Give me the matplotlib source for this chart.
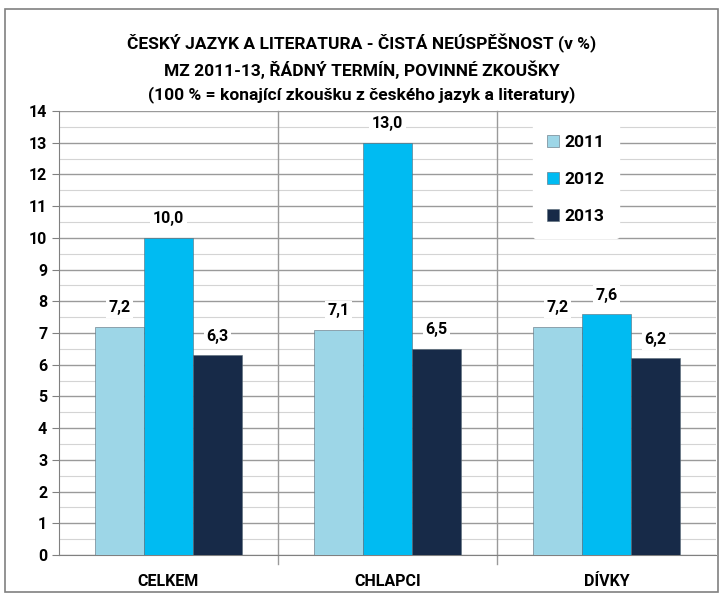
import matplotlib
matplotlib.use('Agg')
import matplotlib.pyplot as plt
import numpy as np
from matplotlib.patches import Rectangle

categories = ['CELKEM', 'CHLAPCI', 'DÍVKY']
years = ['2011', '2012', '2013']
v2011 = [7.2, 7.1, 7.2]
v2012 = [10.0, 13.0, 7.6]
v2013 = [6.3, 6.5, 6.2]
colors = ['#9dd6e7', '#00bbf2', '#172a48']

plt.rcParams['font.family'] = ['Roboto', 'DejaVu Sans']
plt.rcParams['font.weight'] = 'bold'

fig = plt.figure(figsize=(7.24, 6.0), dpi=100)
ax = fig.add_axes([59 / 724, 45 / 600, 657 / 724, 444 / 600])

# frame around the whole chart
fig.patches.append(Rectangle((5 / 724, 8 / 600), 713 / 724, 583 / 600, transform=fig.transFigure,
                             fill=False, edgecolor='#808080', linewidth=1.2))

x = np.arange(len(categories))
w = 0.223
for i, (vals, c, yr) in enumerate(zip([v2011, v2012, v2013], colors, years)):
    bars = ax.bar(x + (i - 1) * w, vals, w, color=c, edgecolor='#5a6b78', linewidth=0.4,
                  label=yr, zorder=3)
    for b, v in zip(bars, vals):
        ax.text(b.get_x() + b.get_width() / 2, v + 0.36, f'{v:.1f}'.replace('.', ','),
                ha='center', va='bottom', fontsize=11.5, fontweight='bold',
                bbox=dict(facecolor='white', edgecolor='none', pad=2), zorder=4)

ax.set_xlim(-0.5, 2.5)
ax.set_ylim(0, 14)
ax.set_yticks(range(0, 15))
ax.set_yticks(np.arange(0.5, 14, 1), minor=True)
ax.set_xticks(x)
ax.set_xticklabels(categories, fontsize=11.5, fontweight='bold')
ax.tick_params(axis='y', labelsize=11.5, length=5, color='#808080')
ax.tick_params(axis='y', which='minor', length=0)
ax.tick_params(axis='x', length=0, pad=14)
for lab in ax.get_yticklabels():
    lab.set_fontweight('bold')

ax.grid(axis='y', which='major', color='#9a9a9a', linewidth=1.0, zorder=0)
ax.grid(axis='y', which='minor', color='#d4d4d4', linewidth=0.8, zorder=0)
for xb in [0.5, 1.5]:
    ax.axvline(xb, ymin=-0.02, color='#9a9a9a', linewidth=1.0, zorder=1, clip_on=False)
ax.set_axisbelow(True)
for s in ['top', 'right']:
    ax.spines[s].set_visible(False)
ax.spines['left'].set_color('#808080')
ax.spines['bottom'].set_color('#808080')

leg = ax.legend(loc='upper right', bbox_to_anchor=(0.865, 0.997), frameon=True,
                handlelength=0.7, handleheight=0.7, labelspacing=1.25, borderpad=0.8,
                handletextpad=0.35, prop={'weight': 'bold', 'size': 12.5})
leg.get_frame().set_edgecolor('white')
leg.get_frame().set_facecolor('white')
leg.get_frame().set_alpha(1)

fig.text(0.5, 1 - 68 / 600, 'ČESKÝ JAZYK A LITERATURA - ČISTÁ NEÚSPĚŠNOST (v %)\n'
         'MZ 2011-13, ŘÁDNÝ TERMÍN, POVINNÉ ZKOUŠKY\n'
         '(100 % = konající zkoušku z českého jazyk a literatury)',
         ha='center', va='center', fontsize=12.5, fontweight='bold', linespacing=1.5)

fig.savefig('out.png', dpi=100)
